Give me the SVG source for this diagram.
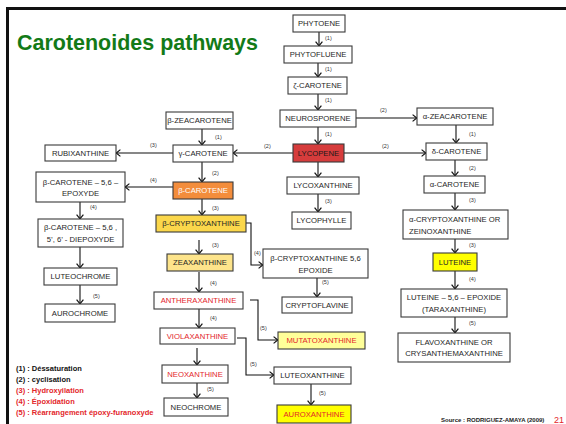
<svg xmlns="http://www.w3.org/2000/svg" width="566" height="424" viewBox="0 0 566 424">
  <defs>
    <marker id="arrowhead" markerUnits="userSpaceOnUse" viewBox="0 0 6 8" markerWidth="6" markerHeight="8" refX="5.2" refY="4" orient="auto">
      <path d="M0.8,0.6 L5,4 L0.8,7.4" fill="none" stroke="#111" stroke-width="1.2"/>
    </marker>
    <style>
      .box { fill: #ffffff; stroke: #3a3a3a; stroke-width: 1.1; }
      .t { font-family: "Liberation Sans", Arial, sans-serif; font-size: 7.7px; fill: #262626; text-anchor: middle; }
      .tl { text-anchor: start; }
      .red { fill: #e3262b; }
      .lbl { font-family: "Liberation Sans", Arial, sans-serif; font-size: 5.5px; fill: #333333; }
      .arr { fill: none; stroke: #111111; stroke-width: 1.1; marker-end: url(#arrowhead); }
      .leg { font-family: "Liberation Sans", Arial, sans-serif; font-size: 7.5px; font-weight: bold; fill: #111111; }
      .legr { fill: #e3262b; }
    </style>
  </defs>

  <rect width="566" height="424" fill="#ffffff"/>
  <!-- slide frame -->
  <path d="M7.5,424 V8.5 H566" fill="none" stroke="#111111" stroke-width="3"/>

  <text x="17" y="50" font-family="Liberation Sans, Arial, sans-serif" font-size="22" font-weight="bold" fill="#137a17" textLength="241" lengthAdjust="spacingAndGlyphs">Carotenoides pathways</text>

  <!-- connectors -->
  <g id="connectors">
    <line class="arr" x1="319" y1="32" x2="319" y2="46"/>
    <line class="arr" x1="318" y1="63" x2="318" y2="77"/>
    <line class="arr" x1="318" y1="94" x2="318" y2="110"/>
    <line class="arr" x1="318" y1="127" x2="318" y2="144"/>
    <line class="arr" x1="356" y1="118" x2="417" y2="118"/>
    <line class="arr" x1="456" y1="125" x2="456" y2="143"/>
    <line class="arr" x1="344" y1="153" x2="426" y2="153"/>
    <line class="arr" x1="293" y1="153" x2="233" y2="153"/>
    <line class="arr" x1="202" y1="129" x2="202" y2="145"/>
    <line class="arr" x1="173" y1="153" x2="116" y2="153"/>
    <line class="arr" x1="202" y1="162" x2="202" y2="182"/>
    <line class="arr" x1="173" y1="187" x2="125" y2="187"/>
    <line class="arr" x1="80" y1="202" x2="80" y2="219"/>
    <line class="arr" x1="80" y1="247" x2="80" y2="268"/>
    <line class="arr" x1="80" y1="285" x2="80" y2="304"/>
    <line class="arr" x1="202" y1="199" x2="202" y2="215"/>
    <line class="arr" x1="199" y1="240" x2="199" y2="254"/>
    <polyline class="arr" points="246,223 251,223 251,265 263,265"/>
    <line class="arr" x1="318" y1="162" x2="318" y2="177"/>
    <line class="arr" x1="318" y1="194" x2="318" y2="212"/>
    <line class="arr" x1="455" y1="160" x2="455" y2="176"/>
    <line class="arr" x1="455" y1="193" x2="455" y2="210"/>
    <line class="arr" x1="455" y1="239" x2="455" y2="253"/>
    <line class="arr" x1="455" y1="271" x2="455" y2="289"/>
    <line class="arr" x1="455" y1="317" x2="455" y2="333"/>
    <line class="arr" x1="317" y1="278" x2="317" y2="297"/>
    <line class="arr" x1="199" y1="272" x2="199" y2="292"/>
    <polyline class="arr" points="250,300 258,300 258,340 278,340"/>
    <line class="arr" x1="199" y1="309" x2="199" y2="328"/>
    <polyline class="arr" points="237,338 246,338 246,375 274,375"/>
    <line class="arr" x1="197" y1="348" x2="197" y2="365"/>
    <line class="arr" x1="197" y1="383" x2="197" y2="398"/>
    <line class="arr" x1="311" y1="384" x2="311" y2="405"/>

    <!-- step labels -->
    <text class="lbl" x="325" y="40">(1)</text>
    <text class="lbl" x="325" y="71">(1)</text>
    <text class="lbl" x="325" y="102">(1)</text>
    <text class="lbl" x="325" y="136">(1)</text>
    <text class="lbl" x="380" y="112">(2)</text>
    <text class="lbl" x="469" y="136">(1)</text>
    <text class="lbl" x="382" y="148">(2)</text>
    <text class="lbl" x="264" y="148">(2)</text>
    <text class="lbl" x="215" y="139">(1)</text>
    <text class="lbl" x="150" y="147">(3)</text>
    <text class="lbl" x="212" y="175">(2)</text>
    <text class="lbl" x="150" y="182">(4)</text>
    <text class="lbl" x="90" y="209">(4)</text>
    <text class="lbl" x="93" y="298">(5)</text>
    <text class="lbl" x="212" y="210">(3)</text>
    <text class="lbl" x="212" y="247">(3)</text>
    <text class="lbl" x="254" y="255">(4)</text>
    <text class="lbl" x="325" y="203">(3)</text>
    <text class="lbl" x="469" y="170">(2)</text>
    <text class="lbl" x="469" y="202">(3)</text>
    <text class="lbl" x="469" y="247">(3)</text>
    <text class="lbl" x="469" y="281">(4)</text>
    <text class="lbl" x="469" y="325">(5)</text>
    <text class="lbl" x="322" y="284">(5)</text>
    <text class="lbl" x="210" y="285">(4)</text>
    <text class="lbl" x="260" y="330">(5)</text>
    <text class="lbl" x="210" y="320">(4)</text>
    <text class="lbl" x="250" y="366">(5)</text>
    <text class="lbl" x="207" y="391">(5)</text>
    <text class="lbl" x="319" y="395">(5)</text>
  </g>

  <!-- central chain -->
  <g id="phytoene"><rect class="box" x="293" y="15" width="52" height="17"/><text class="t" x="319" y="26.3">PHYTOENE</text></g>
  <g id="phytofluene"><rect class="box" x="284" y="46" width="68" height="17"/><text class="t" x="318" y="57.3">PHYTOFLUENE</text></g>
  <g id="zeta-carotene"><rect class="box" x="288" y="77" width="59" height="17"/><text class="t" x="317.5" y="88.3">ζ-CAROTENE</text></g>
  <g id="neurosporene"><rect class="box" x="280" y="110" width="76" height="17"/><text class="t" x="318" y="121.3">NEUROSPORENE</text></g>
  <g id="lycopene"><rect class="box" x="293" y="144" width="51" height="18" fill="#d63c3c" style="fill:#d63c3c"/><text class="t" x="318.5" y="155.8" style="fill:#1a1a1a">LYCOPENE</text></g>
  <g id="lycoxanthine"><rect class="box" x="287" y="177" width="72" height="17"/><text class="t" x="323" y="188.3">LYCOXANTHINE</text></g>
  <g id="lycophylle"><rect class="box" x="292" y="212" width="59" height="17"/><text class="t" x="321.5" y="223.3">LYCOPHYLLE</text></g>

  <!-- alpha branch -->
  <g id="alpha-zeacarotene"><rect class="box" x="417" y="108" width="76" height="17"/><text class="t" x="455" y="119.3">α-ZEACAROTENE</text></g>
  <g id="delta-carotene"><rect class="box" x="426" y="143" width="61" height="17"/><text class="t" x="456.5" y="154.3">δ-CAROTENE</text></g>
  <g id="alpha-carotene"><rect class="box" x="424" y="176" width="61" height="17"/><text class="t" x="454.5" y="187.3">α-CAROTENE</text></g>
  <g id="alpha-cryptoxanthine"><rect class="box" x="403" y="210" width="105" height="29"/><text class="t tl" x="409" y="222">α-CRYPTOXANTHINE OR</text><text class="t tl" x="409" y="233.5">ZEINOXANTHINE</text></g>
  <g id="luteine"><rect class="box" x="433" y="253" width="44" height="18" style="fill:#ffff00"/><text class="t" x="455" y="264.8">LUTEINE</text></g>
  <g id="luteine-epoxide"><rect class="box" x="401" y="289" width="106" height="28"/><text class="t" x="454" y="299.5">LUTEINE – 5,6 – EPOXIDE</text><text class="t" x="454" y="311.8">(TARAXANTHINE)</text></g>
  <g id="flavoxanthine"><rect class="box" x="398" y="333" width="112" height="29"/><text class="t" x="454" y="344.5">FLAVOXANTHINE OR</text><text class="t" x="454" y="356">CRYSANTHEMAXANTHINE</text></g>

  <!-- beta branch -->
  <g id="beta-zeacarotene"><rect class="box" x="166" y="112" width="67" height="17"/><text class="t" x="199.5" y="123.3">β-ZEACAROTENE</text></g>
  <g id="gamma-carotene"><rect class="box" x="173" y="145" width="60" height="17"/><text class="t" x="203" y="156.3">γ-CAROTENE</text></g>
  <g id="rubixanthine"><rect class="box" x="45" y="145" width="71" height="16"/><text class="t" x="80.5" y="155.8">RUBIXANTHINE</text></g>
  <g id="beta-carotene"><rect class="box" x="173" y="182" width="60" height="17" style="fill:#f38d3c"/><text class="t" x="203" y="193.3" style="fill:#ffffff">β-CAROTENE</text></g>
  <g id="beta-carotene-epoxyde"><rect class="box" x="36" y="172" width="89" height="30"/><text class="t" x="80.5" y="184.5">β-CAROTENE – 5,6 –</text><text class="t" x="80.5" y="196">EPOXYDE</text></g>
  <g id="beta-carotene-diepoxyde"><rect class="box" x="38" y="219" width="85" height="28"/><text class="t" x="80.5" y="230">β-CAROTENE – 5,6 ,</text><text class="t" x="80.5" y="241.8">5’, 6’ - DIEPOXYDE</text></g>
  <g id="luteochrome"><rect class="box" x="44" y="268" width="73" height="17"/><text class="t" x="80.5" y="279.3">LUTEOCHROME</text></g>
  <g id="aurochrome"><rect class="box" x="45" y="304" width="70" height="18"/><text class="t" x="80" y="315.8">AUROCHROME</text></g>
  <g id="beta-cryptoxanthine"><rect class="box" x="156" y="215" width="90" height="17" style="fill:#fbd74b"/><text class="t" x="201" y="226.3">β-CRYPTOXANTHINE</text></g>
  <g id="zeaxanthine"><rect class="box" x="167" y="254" width="66" height="17" style="fill:#fde48b"/><text class="t" x="200" y="265.3">ZEAXANTHINE</text></g>
  <g id="beta-cryptoxanthine-epoxide"><rect class="box" x="263" y="249" width="105" height="29"/><text class="t" x="315.5" y="261">β-CRYPTOXANTHINE 5,6</text><text class="t" x="315.5" y="272.8">EPOXIDE</text></g>
  <g id="cryptoflavine"><rect class="box" x="282" y="297" width="70" height="16"/><text class="t" x="317" y="307.8">CRYPTOFLAVINE</text></g>
  <g id="antheraxanthine"><rect class="box" x="154" y="292" width="89" height="17"/><text class="t red" x="198.5" y="303.3">ANTHERAXANTHINE</text></g>
  <g id="violaxanthine"><rect class="box" x="160" y="328" width="75" height="16"/><text class="t red" x="197.5" y="338.8">VIOLAXANTHINE</text></g>
  <g id="neoxanthine"><rect class="box" x="162" y="365" width="66" height="18"/><text class="t red" x="195" y="376.8">NEOXANTHINE</text></g>
  <g id="neochrome"><rect class="box" x="164" y="398" width="64" height="18"/><text class="t" x="196" y="409.8">NEOCHROME</text></g>
  <g id="mutatoxanthine"><rect class="box" x="278" y="332" width="87" height="17" style="fill:#ffff99"/><text class="t red" x="321.5" y="343.3">MUTATOXANTHINE</text></g>
  <g id="luteoxanthine"><rect class="box" x="274" y="367" width="77" height="17"/><text class="t" x="312.5" y="378.3">LUTEOXANTHINE</text></g>
  <g id="auroxanthine"><rect class="box" x="277" y="405" width="74" height="18" style="fill:#ffff00"/><text class="t red" x="314" y="416.8">AUROXANTHINE</text></g>

  <!-- legend -->
  <g id="legend">
    <text class="leg" x="16" y="371">(1) : Déssaturation</text>
    <text class="leg" x="16" y="382">(2) : cyclisation</text>
    <text class="leg legr" x="16" y="393">(3) : Hydroxyilation</text>
    <text class="leg legr" x="16" y="404">(4) : Époxidation</text>
    <text class="leg legr" x="16" y="415">(5) : Réarrangement époxy-furanoxyde</text>
  </g>

  <text x="441" y="422" font-family="Liberation Sans, Arial, sans-serif" font-size="6" font-weight="bold" fill="#222222">Source : RODRIGUEZ-AMAYA (2009)</text>
  <text x="554" y="423" font-family="Liberation Sans, Arial, sans-serif" font-size="9" fill="#e3262b">21</text>
</svg>
